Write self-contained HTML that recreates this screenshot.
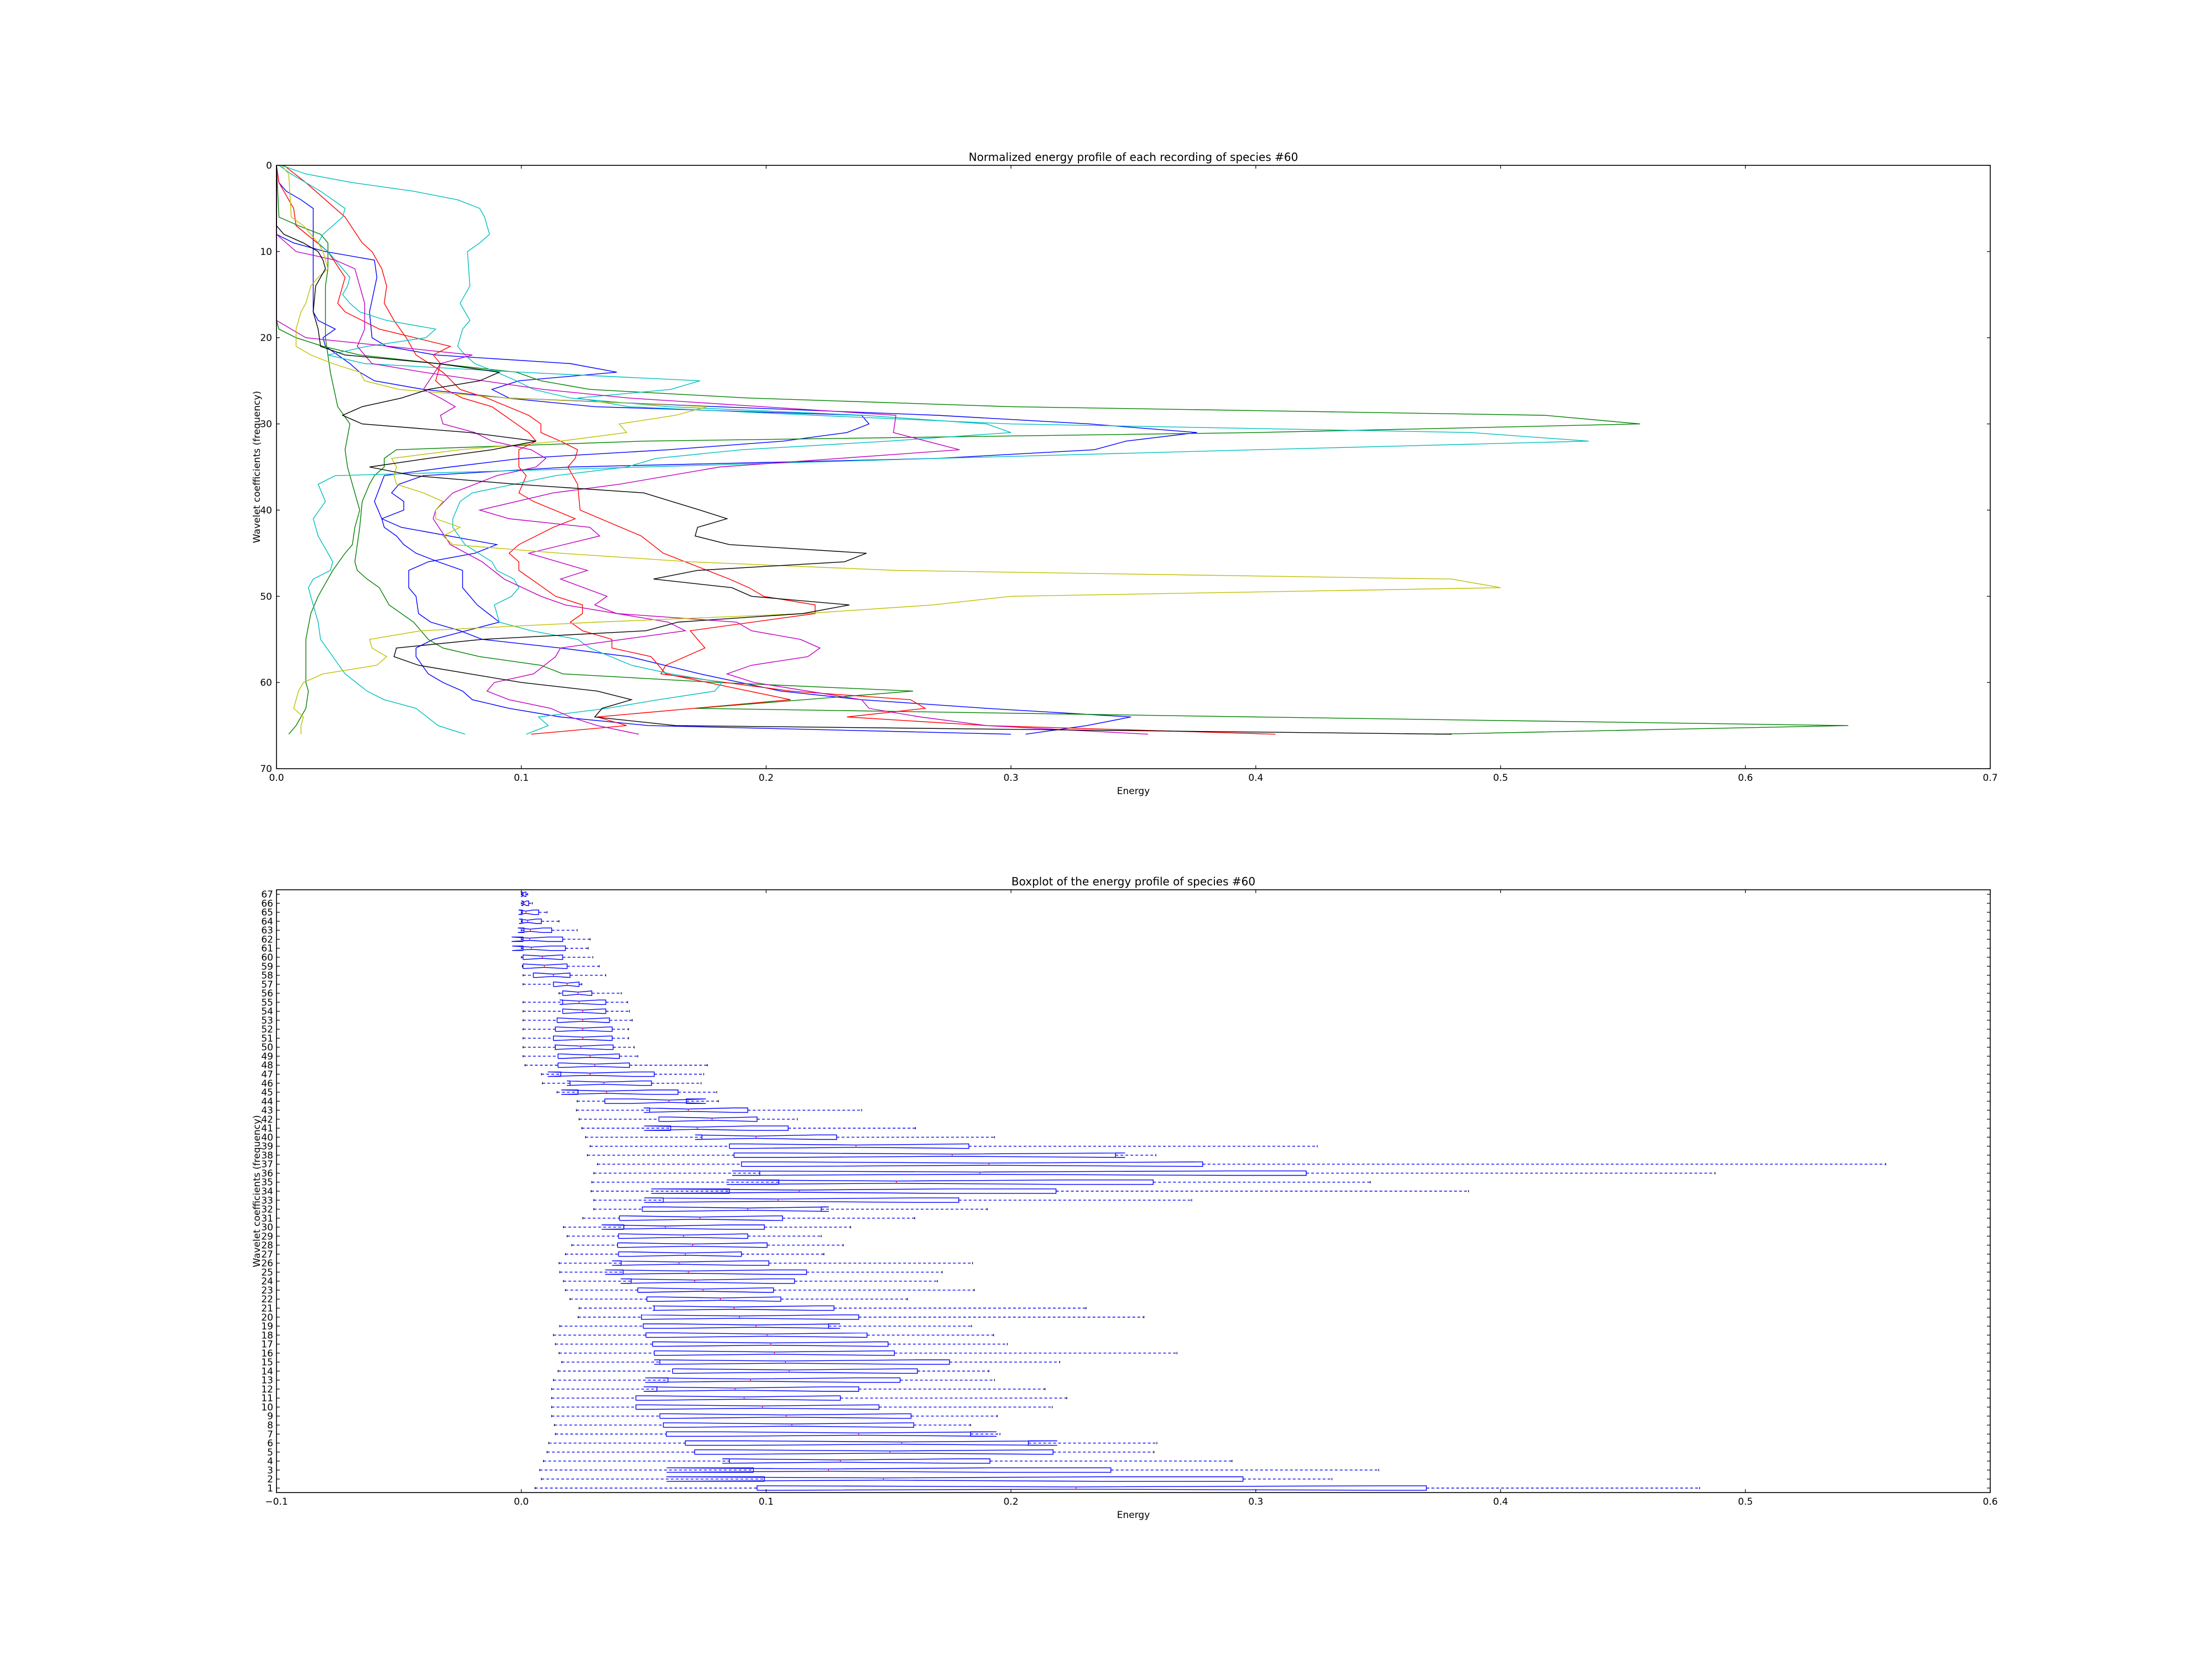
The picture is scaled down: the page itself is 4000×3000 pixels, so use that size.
<!DOCTYPE html>
<html><head><meta charset="utf-8"><style>
html,body{margin:0;padding:0;background:#fff;}
svg{display:block;font-family:"DejaVu Sans","Liberation Sans",sans-serif;}
</style></head><body>
<svg id="fig" width="4000" height="3000" viewBox="0 0 4000 3000" xmlns="http://www.w3.org/2000/svg">
<rect width="4000" height="3000" fill="#fff"/>
<g id="topchart"></g>
<g id="botchart"></g>
</svg>
<script>
// ---- top chart data: each line is list of [coefficient, energy]
const lineColors = ['#0000ff','#0000ff','#008000','#008000','#ff0000','#ff0000','#00bfbf','#00bfbf','#bf00bf','#bf00bf','#bfbf00','#000000'];
const lineBlueA = [[0,0],[2,0.001],[3,0.004],[4,0.010],[5,0.015],[6,0.015],[17,0.015],[18,0.017],[19,0.024],[20,0.019],[21,0.020],[23,0.030],[24,0.034],[25,0.040],[26,0.060],[27,0.094],[28,0.13],[29,0.239],[30,0.242],[31,0.233],[32,0.207],[33,0.16],[34,0.10],[35,0.071],[36,0.044],[39,0.040],[41,0.043],[42,0.051],[44,0.090],[45,0.081],[46,0.062],[47,0.054],[49,0.054],[50,0.057],[52,0.058],[53,0.063],[54,0.075],[55,0.084],[56,0.116],[57,0.144],[59,0.173],[61,0.206],[62,0.239],[63,0.29],[64,0.349],[65,0.331],[66,0.306]];
const lineBlueB = [[0,0],[8,0],[9,0.007],[10,0.020],[11,0.040],[13,0.041],[17,0.038],[20,0.039],[21,0.045],[22,0.065],[23,0.12],[24,0.139],[25,0.099],[26,0.088],[27,0.095],[28,0.18],[29,0.27],[30,0.332],[31,0.376],[32,0.347],[33,0.334],[34,0.27],[35,0.12],[36,0.06],[37,0.05],[38,0.047],[39,0.052],[40,0.052],[41,0.043],[42,0.044],[43,0.049],[44,0.052],[45,0.057],[46,0.066],[47,0.076],[49,0.076],[51,0.082],[53,0.091],[55,0.064],[56,0.057],[57,0.057],[59,0.062],[60,0.068],[61,0.076],[62,0.080],[63,0.095],[64,0.116],[65,0.152],[66,0.30]];
const lineGreenA = [[0,0],[6,0.001],[7,0.009],[8,0.018],[9,0.021],[12,0.021],[14,0.020],[20,0.020],[24,0.022],[28,0.025],[30,0.030],[33,0.028],[35,0.029],[37,0.031],[40,0.034],[42,0.032],[44,0.031],[45,0.028],[47,0.023],[49,0.019],[50,0.017],[52,0.014],[55,0.012],[57,0.012],[60,0.012],[61,0.013],[63,0.012],[65,0.008],[66,0.005]];
const lineGreenB = [[0,0],[18,0],[19,0.001],[20,0.008],[21,0.019],[22,0.034],[23,0.066],[24,0.098],[25,0.108],[26,0.128],[27,0.193],[28,0.30],[29,0.518],[30,0.557],[31,0.40],[32,0.15],[33,0.049],[34,0.044],[35,0.044],[36,0.040],[37,0.038],[39,0.035],[42,0.034],[46,0.032],[47,0.033],[48,0.037],[49,0.042],[51,0.046],[53,0.056],[55,0.062],[56,0.068],[57,0.083],[58,0.108],[59,0.117],[60,0.180],[61,0.26],[63,0.171],[64,0.40],[65,0.642],[66,0.473]];
const lineRedA = [[0,0.003],[2,0.012],[4,0.020],[6,0.028],[9,0.035],[10,0.039],[12,0.043],[14,0.045],[16,0.044],[18,0.048],[20,0.053],[22,0.057],[24,0.068],[26,0.075],[27,0.086],[29,0.103],[30,0.108],[31,0.108],[32,0.116],[33,0.123],[34,0.122],[35,0.119],[37,0.123],[40,0.124],[43,0.149],[45,0.158],[48,0.185],[49,0.193],[50,0.199],[51,0.220],[52,0.220],[54,0.169],[56,0.175],[58,0.159],[59,0.157],[61,0.21],[62,0.259],[63,0.265],[64,0.233],[65,0.29],[66,0.408]];
const lineRedB = [[0,0],[2,0.001],[5,0.007],[7,0.008],[10,0.021],[13,0.028],[16,0.025],[17,0.028],[19,0.042],[21,0.071],[22,0.064],[23,0.067],[25,0.065],[26,0.069],[27,0.076],[28,0.088],[30,0.098],[31,0.103],[32,0.106],[33,0.099],[35,0.099],[36,0.102],[38,0.099],[39,0.105],[41,0.122],[42,0.113],[44,0.099],[45,0.095],[46,0.099],[47,0.099],[50,0.114],[51,0.125],[52,0.125],[53,0.120],[54,0.125],[55,0.137],[56,0.137],[57,0.153],[59,0.159],[60,0.176],[62,0.210],[64,0.131],[65,0.143],[66,0.104]];
const lineCyanA = [[0,0.002],[1,0.012],[2,0.031],[3,0.056],[4,0.074],[5,0.083],[6,0.085],[8,0.087],[9,0.083],[10,0.078],[14,0.079],[15,0.077],[16,0.075],[17,0.077],[18,0.079],[19,0.076],[21,0.074],[22,0.077],[23,0.081],[24,0.09],[25,0.098],[26,0.105],[27,0.12],[28,0.16],[29,0.24],[30,0.29],[31,0.30],[32,0.25],[33,0.19],[34,0.155],[35,0.143],[36,0.114],[37,0.097],[38,0.080],[39,0.075],[41,0.072],[42,0.072],[44,0.077],[46,0.088],[47,0.09],[48,0.097],[49,0.099],[50,0.096],[51,0.089],[53,0.091],[54,0.104],[55,0.123],[56,0.128],[58,0.145],[59,0.161],[60,0.182],[61,0.179],[62,0.156],[63,0.135],[64,0.107],[65,0.111],[66,0.102]];
const lineCyanB = [[0,0.001],[1,0.006],[2,0.012],[3,0.018],[4,0.023],[5,0.028],[6,0.027],[7,0.023],[8,0.019],[9,0.017],[10,0.021],[12,0.027],[13,0.030],[14,0.029],[15,0.027],[16,0.030],[17,0.034],[18,0.045],[19,0.065],[20,0.061],[21,0.037],[22,0.021],[23,0.036],[24,0.10],[25,0.173],[26,0.161],[27,0.123],[28,0.144],[29,0.22],[30,0.30],[31,0.488],[32,0.536],[33,0.40],[34,0.27],[35,0.15],[36,0.024],[37,0.017],[39,0.020],[41,0.015],[43,0.017],[46,0.023],[47,0.022],[48,0.015],[49,0.013],[52,0.016],[53,0.017],[55,0.018],[57,0.023],[59,0.028],[61,0.037],[62,0.044],[63,0.057],[65,0.066],[66,0.077]];
const lineMagA = [[0,0],[8,0],[10,0.008],[11,0.024],[12,0.032],[13,0.033],[16,0.036],[19,0.036],[21,0.033],[23,0.039],[24,0.060],[26,0.109],[27,0.144],[29,0.253],[31,0.252],[33,0.279],[35,0.181],[37,0.14],[38,0.113],[40,0.083],[41,0.095],[42,0.128],[43,0.132],[45,0.103],[47,0.127],[48,0.116],[50,0.135],[51,0.130],[52,0.139],[53,0.188],[54,0.194],[55,0.214],[56,0.222],[57,0.217],[58,0.194],[59,0.184],[60,0.195],[62,0.239],[63,0.242],[64,0.263],[65,0.29],[66,0.356]];
const lineMagB = [[0,0],[18,0],[20,0.012],[22,0.080],[23,0.067],[26,0.060],[27,0.067],[28,0.073],[29,0.067],[30,0.068],[31,0.081],[32,0.088],[33,0.104],[34,0.110],[35,0.106],[36,0.09],[38,0.072],[40,0.065],[41,0.064],[44,0.071],[46,0.084],[48,0.093],[50,0.108],[51,0.118],[53,0.160],[54,0.167],[56,0.116],[57,0.114],[59,0.105],[60,0.089],[61,0.086],[62,0.095],[63,0.112],[64,0.120],[65,0.131],[66,0.148]];
const lineYellow = [[0,0.002],[1,0.005],[6,0.006],[7,0.011],[9,0.017],[10,0.019],[12,0.021],[13,0.017],[14,0.014],[16,0.012],[17,0.010],[19,0.008],[21,0.008],[22,0.014],[23,0.023],[24,0.034],[25,0.036],[26,0.050],[27,0.094],[28,0.176],[29,0.163],[30,0.140],[31,0.143],[32,0.116],[33,0.075],[34,0.047],[35,0.049],[36,0.048],[37,0.049],[38,0.060],[39,0.068],[40,0.065],[41,0.065],[42,0.075],[43,0.068],[44,0.072],[45,0.116],[46,0.169],[47,0.253],[48,0.48],[49,0.50],[50,0.30],[51,0.268],[52,0.216],[53,0.131],[54,0.059],[55,0.038],[56,0.039],[57,0.045],[58,0.041],[59,0.019],[60,0.011],[61,0.009],[62,0.008],[63,0.007],[64,0.011],[65,0.010],[66,0.010]];
const lineBlack = [[0,0],[7,0],[8,0.003],[9,0.011],[10,0.017],[11,0.019],[12,0.020],[14,0.016],[17,0.015],[19,0.017],[21,0.018],[22,0.028],[23,0.066],[24,0.091],[25,0.083],[26,0.062],[27,0.051],[28,0.035],[29,0.027],[30,0.035],[31,0.079],[32,0.106],[33,0.088],[34,0.062],[35,0.038],[36,0.056],[37,0.098],[38,0.150],[40,0.173],[41,0.184],[42,0.172],[43,0.171],[44,0.185],[45,0.241],[46,0.232],[47,0.172],[48,0.154],[49,0.186],[50,0.194],[51,0.234],[52,0.215],[53,0.164],[54,0.151],[55,0.084],[56,0.049],[57,0.048],[58,0.058],[59,0.079],[60,0.100],[61,0.131],[62,0.145],[63,0.133],[64,0.130],[65,0.163],[66,0.48]];
const topLines = [lineBlueA,lineBlueB,lineGreenA,lineGreenB,lineRedA,lineRedB,lineCyanA,lineCyanB,lineMagA,lineMagB,lineYellow,lineBlack];
const topXTicks = [0,0.1,0.2,0.3,0.4,0.5,0.6,0.7];
const topXTickLabels = ['0.0','0.1','0.2','0.3','0.4','0.5','0.6','0.7'];
const topYTicks = [0,10,20,30,40,50,60,70];

// ---- bottom chart data: rows 1..67 stats
const boxRows = [1,2,3,4,5,6,7,8,9,10,11,12,13,14,15,16,17,18,19,20,21,22,23,24,25,26,27,28,29,30,31,32,33,34,35,36,37,38,39,40,41,42,43,44,45,46,47,48,49,50,51,52,53,54,55,56,57,58,59,60,61,62,63,64,65,66,67];
const boxWhiskerLow = [0.0056,0.0082,0.0075,0.009,0.0105,0.0112,0.0139,0.0135,0.0124,0.0124,0.0124,0.0124,0.0131,0.0150,0.0165,0.0154,0.0139,0.0131,0.0157,0.0232,0.0236,0.0199,0.018,0.0172,0.0157,0.0154,0.018,0.0206,0.0187,0.0172,0.0251,0.0296,0.0296,0.0285,0.0288,0.0296,0.0311,0.027,0.0281,0.0262,0.0247,0.0236,0.0225,0.0228,0.0146,0.0086,0.0082,0.0015,0.0007,0.0007,0.0007,0.0007,0.0007,0.0007,0.0007,0.0154,0.0007,0.0007,0.0004,0,0,0,0,0,0,0,0];
const boxQ1 = [0.0963,0.0993,0.0948,0.085,0.0708,0.067,0.0592,0.058,0.0566,0.0468,0.0468,0.0554,0.0599,0.0618,0.0566,0.0543,0.0536,0.0509,0.0498,0.0491,0.0543,0.0513,0.0476,0.0449,0.0416,0.0408,0.0397,0.0393,0.0397,0.0419,0.0401,0.0494,0.058,0.085,0.1052,0.0974,0.0899,0.0869,0.085,0.0738,0.0610,0.0562,0.0524,0.0341,0.0232,0.0199,0.0161,0.015,0.015,0.0139,0.0131,0.0139,0.0146,0.0169,0.0169,0.0169,0.0131,0.0049,0.0007,0.0007,0.0007,0.0007,0.0011,0.0004,0.0004,0.0007,0.0004];
const boxMedian = [0.2266,0.1479,0.1255,0.1303,0.1506,0.1554,0.1378,0.1105,0.1082,0.0985,0.091,0.0873,0.0936,0.1094,0.1079,0.1034,0.1019,0.1004,0.0959,0.0891,0.0869,0.0813,0.0742,0.0708,0.0682,0.0644,0.067,0.07,0.0663,0.0588,0.073,0.0925,0.1049,0.1135,0.1532,0.1873,0.191,0.176,0.1367,0.0959,0.0719,0.0779,0.0682,0.0603,0.0348,0.0337,0.0281,0.03,0.0281,0.0243,0.0251,0.0251,0.0251,0.0251,0.0236,0.0232,0.0187,0.0131,0.0094,0.0086,0.0041,0.0034,0.0037,0.0026,0.0019,0.0011,0.0008];
const boxQ3 = [0.3697,0.2948,0.2408,0.1914,0.2172,0.2071,0.1835,0.1603,0.1592,0.1461,0.1303,0.1378,0.1547,0.1618,0.1749,0.1524,0.1498,0.1412,0.1255,0.1378,0.1277,0.106,0.103,0.1116,0.1165,0.1011,0.0899,0.1004,0.0925,0.0993,0.1067,0.1225,0.1787,0.2184,0.2581,0.3206,0.2783,0.2427,0.1828,0.1288,0.109,0.0963,0.0925,0.0674,0.064,0.0532,0.0543,0.0442,0.0401,0.0375,0.0371,0.0371,0.036,0.0345,0.0345,0.0288,0.0236,0.0199,0.0187,0.0169,0.018,0.0169,0.0124,0.0082,0.0071,0.003,0.0019];
const boxWhiskerHigh = [0.4813,0.3311,0.3502,0.2903,0.2584,0.2596,0.1955,0.1835,0.1944,0.2169,0.2228,0.2139,0.1933,0.191,0.2199,0.2678,0.1985,0.1929,0.1839,0.2543,0.2307,0.1577,0.185,0.17,0.1719,0.1843,0.1236,0.1315,0.1225,0.1345,0.1607,0.1903,0.2738,0.3869,0.3468,0.4876,0.5573,0.2592,0.3251,0.1933,0.161,0.1127,0.139,0.0805,0.0798,0.0734,0.0745,0.076,0.0476,0.0461,0.0438,0.0438,0.0453,0.0442,0.0434,0.0408,0.0247,0.0345,0.0318,0.0292,0.0273,0.0281,0.0228,0.0154,0.0105,0.0045,0.0026];
const bottomXTicks = [-0.1,0,0.1,0.2,0.3,0.4,0.5,0.6];
const bottomXTickLabels = ['\u22120.1','0.0','0.1','0.2','0.3','0.4','0.5','0.6'];
const sampleCount = 12;

const NS='http://www.w3.org/2000/svg';
function mk(parent,tag,attrs,text){const el=document.createElementNS(NS,tag);for(const k in attrs)el.setAttribute(k,attrs[k]);if(text!==undefined)el.textContent=text;parent.appendChild(el);return el;}

// ---------- TOP ----------
const T={l:500,r:3599,t:299,b:1390};
const tx=v=>T.l+v/0.7*(T.r-T.l);
const ty=v=>T.t+v/70*(T.b-T.t);
const topG=document.getElementById('topchart');
topLines.forEach((ln,i)=>{
  const p=mk(topG,'polyline',{points:ln.map(d=>tx(d[1]).toFixed(1)+','+ty(d[0]).toFixed(1)).join(' '),fill:'none',stroke:lineColors[i],'stroke-width':1.4});
  
  
});
const tf=mk(topG,'rect',{x:T.l,y:T.t,width:T.r-T.l,height:T.b-T.t,fill:'none',stroke:'#000','stroke-width':1.6});


topXTicks.forEach((v,i)=>{
  const x=tx(v);
  mk(topG,'line',{x1:x,x2:x,y1:T.b,y2:T.b-6,stroke:'#000','stroke-width':1.2});
  mk(topG,'line',{x1:x,x2:x,y1:T.t,y2:T.t+6,stroke:'#000','stroke-width':1.2});
  const t=mk(topG,'text',{x:x,y:T.b+22,'font-size':17,'text-anchor':'middle'},topXTickLabels[i]);
  
  
});
topYTicks.forEach(v=>{
  const y=ty(v);
  mk(topG,'line',{x1:T.l,x2:T.l+6,y1:y,y2:y,stroke:'#000','stroke-width':1.2});
  mk(topG,'line',{x1:T.r,x2:T.r-6,y1:y,y2:y,stroke:'#000','stroke-width':1.2});
  const t=mk(topG,'text',{x:T.l-8,y:y+6,'font-size':17,'text-anchor':'end'},String(v));
  
  
});
let lab=mk(topG,'text',{x:(T.l+T.r)/2,y:T.t-8,'font-size':20,'text-anchor':'middle'},'Normalized energy profile of each recording of species #60');


lab=mk(topG,'text',{x:(T.l+T.r)/2,y:T.b+46,'font-size':17,'text-anchor':'middle'},'Energy');


lab=mk(topG,'text',{x:470,y:(T.t+T.b)/2,'font-size':17,'text-anchor':'middle',transform:'rotate(-90 470 '+((T.t+T.b)/2)+')'},'Wavelet coefficients (frequency)');



// ---------- BOTTOM ----------
const B={l:500,r:3599,t:1609,b:2699};
const bx=v=>B.l+(v+0.1)/0.7*(B.r-B.l);
const by=r=>B.t+(67.5-r)*(B.b-B.t)/67;
const botG=document.getElementById('botchart');
const rowH=(B.b-B.t)/67;
const hw=0.25*rowH, nw=0.125*rowH, cw=0.125*rowH;
boxRows.forEach((r,i)=>{
  const y=by(r);
  const lo=boxWhiskerLow[i],q1=boxQ1[i],md=boxMedian[i],q3=boxQ3[i],hi=boxWhiskerHigh[i];
  const g=mk(botG,'g',{});
  
  
  mk(g,'line',{x1:bx(lo),x2:bx(q1),y1:y,y2:y,stroke:'#0000ff','stroke-width':1.4,'stroke-dasharray':'5,4'});
  mk(g,'line',{x1:bx(q3),x2:bx(hi),y1:y,y2:y,stroke:'#0000ff','stroke-width':1.4,'stroke-dasharray':'5,4'});
  mk(g,'line',{x1:bx(lo),x2:bx(lo),y1:y-cw,y2:y+cw,stroke:'#000','stroke-width':1.2});
  mk(g,'line',{x1:bx(hi),x2:bx(hi),y1:y-cw,y2:y+cw,stroke:'#000','stroke-width':1.2});
  const n=1.57*(q3-q1)/Math.sqrt(sampleCount);
  const nmin=md-n, nmax=md+n;
  const outline=[[q1,y+hw],[nmin,y+hw],[md,y+nw],[nmax,y+hw],[q3,y+hw],[q3,y-hw],[nmax,y-hw],[md,y-nw],[nmin,y-hw],[q1,y-hw],[q1,y+hw]];
  mk(g,'polyline',{points:outline.map(p=>bx(p[0]).toFixed(1)+','+p[1].toFixed(1)).join(' '),fill:'none',stroke:'#0000ff','stroke-width':1.4});
  mk(g,'line',{x1:bx(md),x2:bx(md),y1:y-nw,y2:y+nw,stroke:'#ff0000','stroke-width':1.2});
});
const bf=mk(botG,'rect',{x:B.l,y:B.t,width:B.r-B.l,height:B.b-B.t,fill:'none',stroke:'#000','stroke-width':1.6});


bottomXTicks.forEach((v,i)=>{
  const x=bx(v);
  mk(botG,'line',{x1:x,x2:x,y1:B.b,y2:B.b-6,stroke:'#000','stroke-width':1.2});
  mk(botG,'line',{x1:x,x2:x,y1:B.t,y2:B.t+6,stroke:'#000','stroke-width':1.2});
  const t=mk(botG,'text',{x:x,y:B.b+22,'font-size':17,'text-anchor':'middle'},bottomXTickLabels[i]);
  
  
});
boxRows.forEach(r=>{
  const y=by(r);
  mk(botG,'line',{x1:B.l,x2:B.l+6,y1:y,y2:y,stroke:'#000','stroke-width':1.2});
  mk(botG,'line',{x1:B.r,x2:B.r-6,y1:y,y2:y,stroke:'#000','stroke-width':1.2});
  const t=mk(botG,'text',{x:B.l-6,y:y+6,'font-size':17,'text-anchor':'end'},String(r));
  
  
});
lab=mk(botG,'text',{x:(B.l+B.r)/2,y:B.t-8,'font-size':20,'text-anchor':'middle'},'Boxplot of the energy profile of species #60');


lab=mk(botG,'text',{x:(B.l+B.r)/2,y:B.b+46,'font-size':17,'text-anchor':'middle'},'Energy');


lab=mk(botG,'text',{x:470,y:(B.t+B.b)/2,'font-size':17,'text-anchor':'middle',transform:'rotate(-90 470 '+((B.t+B.b)/2)+')'},'Wavelet coefficients (frequency)');


</script>
</body></html>
